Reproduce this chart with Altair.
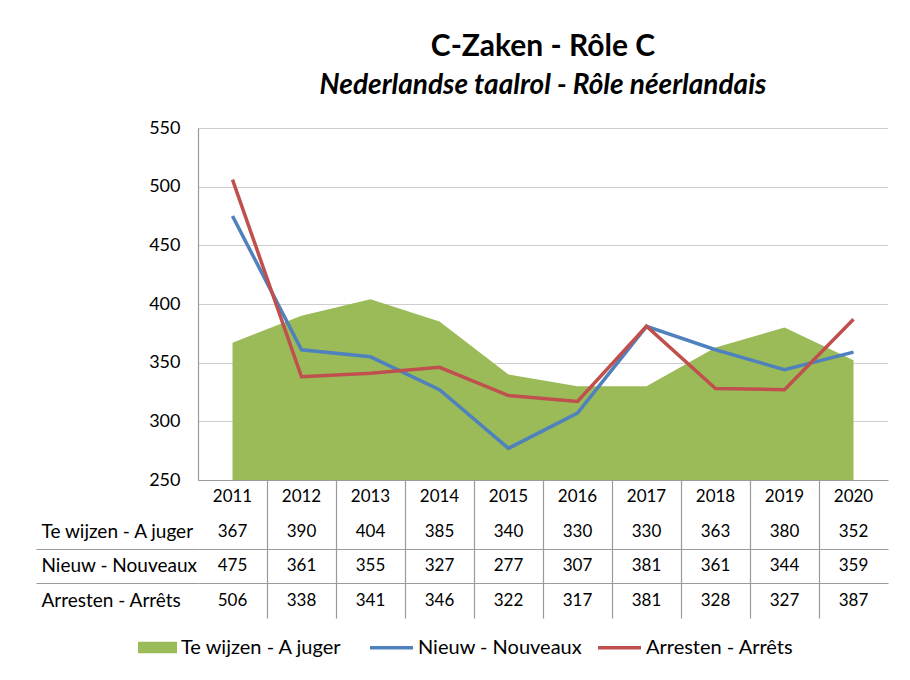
import altair as alt
import pandas as pd

years = ["2011", "2012", "2013", "2014", "2015", "2016", "2017", "2018", "2019", "2020"]
te_wijzen = [367, 390, 404, 385, 340, 330, 330, 363, 380, 352]
nieuw = [475, 361, 355, 327, 277, 307, 381, 361, 344, 359]
arresten = [506, 338, 341, 346, 322, 317, 381, 328, 327, 387]

S_TE = "Te wijzen - A juger"
S_NI = "Nieuw - Nouveaux"
S_AR = "Arresten - Arrêts"
YEAR_ROW = "Jaar"

GREEN = "#9BBB59"
BLUE = "#4F81BD"
RED = "#C0504D"
FONT = "Lato"

area_df = pd.DataFrame({"year": years, "value": te_wijzen, "area_series": S_TE})
line_df = pd.concat([
    pd.DataFrame({"year": years, "value": nieuw, "line_series": S_NI}),
    pd.DataFrame({"year": years, "value": arresten, "line_series": S_AR}),
])

rows = [YEAR_ROW, S_TE, S_NI, S_AR]
table_records = []
for i, y in enumerate(years):
    table_records.append({"year": y, "row": YEAR_ROW, "txt": y})
    table_records.append({"year": y, "row": S_TE, "txt": str(te_wijzen[i])})
    table_records.append({"year": y, "row": S_NI, "txt": str(nieuw[i])})
    table_records.append({"year": y, "row": S_AR, "txt": str(arresten[i])})
table_df = pd.DataFrame(table_records)

W = 690
x_point = alt.X("year:O", scale=alt.Scale(type="point", domain=years, padding=0.5), axis=None)
y_q = alt.Y("value:Q", scale=alt.Scale(domain=[250, 550], nice=False, zero=False),
            axis=alt.Axis(title=None, values=[250, 300, 350, 400, 450, 500, 550],
                          ticks=False, labelPadding=18, labelFontSize=18, labelFont=FONT,
                          labelColor="#000000", domainColor="#9A9A9A", domainWidth=1.2,
                          gridColor="#9A9A9A", gridDash=[1, 1], gridWidth=1))

area = alt.Chart(area_df).mark_area(opacity=1, clip=True).encode(
    x=x_point,
    y=y_q,
    y2=alt.datum(250),
    fill=alt.Fill("area_series:N", scale=alt.Scale(domain=[S_TE], range=[GREEN]),
                  legend=alt.Legend(title=None, orient="none", legendX=-60, legendY=500,
                                    symbolType="M-1,-0.29H1V0.29H-1Z", symbolSize=1521,
                                    symbolStrokeWidth=0, symbolOpacity=1,
                                    labelFontSize=20, labelFont=FONT, labelLimit=300,
                                    labelColor="#000000", labelOffset=4, padding=0)),
)
lines = alt.Chart(line_df).mark_line(strokeWidth=3.5).encode(
    x=x_point,
    y=y_q,
    stroke=alt.Stroke("line_series:N", scale=alt.Scale(domain=[S_NI, S_AR], range=[BLUE, RED]),
                      legend=alt.Legend(title=None, orient="none", legendX=170, legendY=496,
                                        direction="horizontal", symbolType="stroke",
                                        symbolSize=1849, symbolStrokeWidth=3.5,
                                        labelFontSize=20, labelFont=FONT, labelColor="#000000",
                                        labelLimit=300, labelOffset=3, columnPadding=8,
                                        padding=0)),
    order="line_series:N",
)

main = alt.layer(area, lines).properties(
    width=W, height=352,
    title=alt.TitleParams(
        text="C-Zaken - Rôle C",
        subtitle="Nederlandse taalrol - Rôle néerlandais",
        anchor="middle", frame="group", font=FONT, fontSize=30, fontWeight="bold",
        color="#000000", subtitleFont=FONT, subtitleFontSize=28, subtitleFontWeight="bold",
        subtitleFontStyle="italic", subtitleColor="#000000", subtitlePadding=10, offset=19,
    ),
)

table = alt.Chart(table_df).mark_text(font=FONT, fontSize=17, color="#000000").encode(
    x=alt.X("year:O", scale=alt.Scale(type="band", domain=years, paddingInner=0, paddingOuter=0),
            axis=alt.Axis(title=None, orient="top", labels=False, ticks=False, domain=True,
                          domainColor="#9A9A9A", domainWidth=1.2, grid=True,
                          bandPosition=0, gridColor="#9A9A9A", gridWidth=1.2,
                          gridOpacity={"condition": {"test": "datum.value === '2011'", "value": 0},
                                       "value": 1})),
    y=alt.Y("row:N", scale=alt.Scale(type="band", domain=rows, paddingInner=0, paddingOuter=0),
            axis=alt.Axis(title=None, domain=False, bandPosition=0, tickSize=162,
                          tickColor="#9A9A9A", tickWidth=1.2,
                          tickOpacity={"condition": {"test": f"datum.value === '{YEAR_ROW}' || datum.value === '{S_TE}'",
                                                     "value": 0}, "value": 1},
                          grid=True, gridColor="#9A9A9A", gridWidth=1.2,
                          gridOpacity={"condition": {"test": f"datum.value === '{YEAR_ROW}' || datum.value === '{S_TE}'",
                                                     "value": 0}, "value": 1},
                          labelAlign="left", labelPadding=-5, labelOffset=0,
                          labelFontSize=19, labelFont=FONT, labelColor="#000000",
                          labelExpr=f"datum.value === '{YEAR_ROW}' ? '' : datum.value")),
    text="txt:N",
).properties(width=W, height=138)

chart = alt.vconcat(main, table, spacing=0, bounds="flush").resolve_scale(x="independent").properties(
    padding={"left": 27, "top": 24, "right": 5, "bottom": 0},
).configure_view(stroke=None)

chart.save("out.html", embed_options={"renderer": "svg", "actions": False})
